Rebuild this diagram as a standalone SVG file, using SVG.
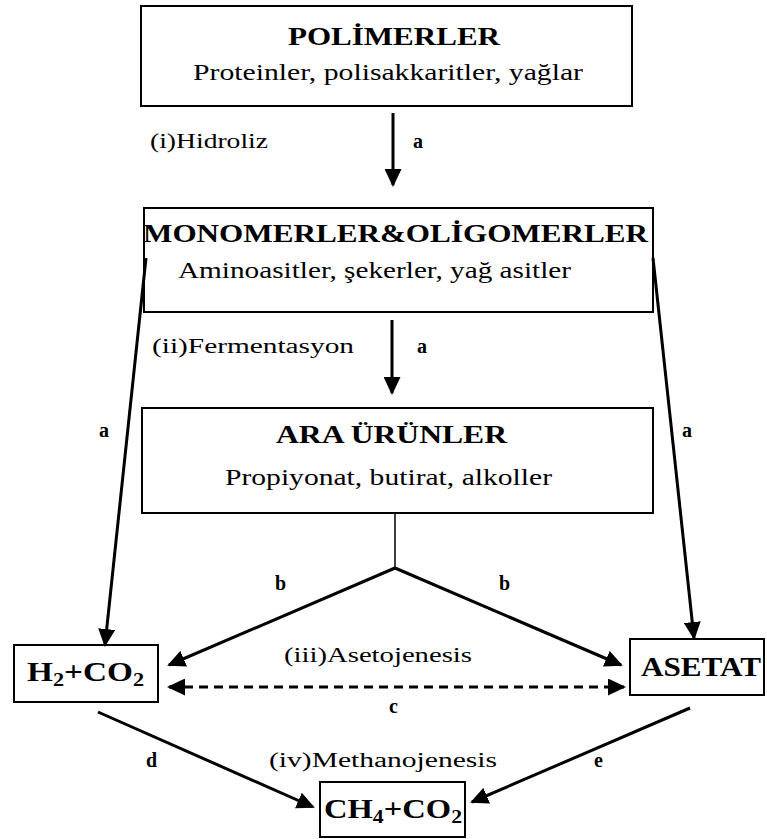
<svg xmlns="http://www.w3.org/2000/svg" width="767" height="839" viewBox="0 0 767 839">
<style>
.box{fill:#fff;stroke:#000;stroke-width:2}
text{font-family:'Liberation Serif','DejaVu Serif','Times New Roman',serif;fill:#000}
.b{font-weight:bold}
.con{stroke:#000;stroke-width:3;fill:none}
</style>
<defs>
<marker id="ah" viewBox="0 0 18 17" refX="16" refY="8.5" markerWidth="18" markerHeight="17" markerUnits="userSpaceOnUse" orient="auto-start-reverse">
<path d="M0,0 L18,8.5 L0,17 z" fill="#000"/>
</marker>
</defs>
<rect width="767" height="839" fill="#fff"/>
<g id="polimerler">
<rect class="box" x="141" y="6" width="491" height="100"/>
<text class="b" x="288" y="45" font-size="26" textLength="212" lengthAdjust="spacingAndGlyphs">POLİMERLER</text>
<text x="193" y="80" font-size="23" textLength="390" lengthAdjust="spacingAndGlyphs">Proteinler, polisakkaritler, yağlar</text>
</g>
<g id="monomerler">
<rect class="box" x="144" y="208" width="509" height="104"/>
<text class="b" x="143" y="242" font-size="25" textLength="505" lengthAdjust="spacingAndGlyphs">MONOMERLER&amp;OLİGOMERLER</text>
<text x="178" y="278" font-size="23" textLength="393" lengthAdjust="spacingAndGlyphs">Aminoasitler, şekerler, yağ asitler</text>
</g>
<g id="araurunler">
<rect class="box" x="142" y="408" width="511" height="105"/>
<text class="b" x="276" y="443" font-size="25" textLength="231" lengthAdjust="spacingAndGlyphs">ARA ÜRÜNLER</text>
<text x="225" y="485" font-size="23" textLength="327" lengthAdjust="spacingAndGlyphs">Propiyonat, butirat, alkoller</text>
</g>
<g id="h2co2">
<rect class="box" x="14" y="645" width="144" height="57"/>
<text class="b" x="27" y="681" font-size="27" textLength="117" lengthAdjust="spacingAndGlyphs">H<tspan font-size="18" dy="5">2</tspan><tspan dy="-5">+CO</tspan><tspan font-size="18" dy="5">2</tspan></text>
</g>
<g id="asetat">
<rect class="box" x="630" y="639" width="134" height="56"/>
<text class="b" x="641" y="676" font-size="27" textLength="120" lengthAdjust="spacingAndGlyphs">ASETAT</text>
</g>
<g id="ch4co2">
<rect class="box" x="320" y="782" width="145" height="55"/>
<text class="b" x="324" y="818" font-size="27" textLength="138" lengthAdjust="spacingAndGlyphs">CH<tspan font-size="18" dy="5">4</tspan><tspan dy="-5">+CO</tspan><tspan font-size="18" dy="5">2</tspan></text>
</g>
<g id="connectors">
<line class="con" x1="393" y1="113" x2="393" y2="185" marker-end="url(#ah)"/>
<line class="con" x1="392" y1="320" x2="392" y2="393" marker-end="url(#ah)"/>
<line class="con" x1="146" y1="258" x2="105" y2="645" marker-end="url(#ah)"/>
<line class="con" x1="653" y1="258" x2="694" y2="638" marker-end="url(#ah)"/>
<line stroke="#000" stroke-width="1.5" x1="395" y1="513" x2="395" y2="568"/>
<line class="con" x1="395" y1="568" x2="169" y2="665" marker-end="url(#ah)"/>
<line class="con" x1="395" y1="568" x2="621" y2="665" marker-end="url(#ah)"/>
<line class="con" stroke-dasharray="9 6" x1="169" y1="687" x2="624" y2="687" marker-start="url(#ah)" marker-end="url(#ah)"/>
<line class="con" x1="98" y1="712" x2="313" y2="807" marker-end="url(#ah)"/>
<line class="con" x1="690" y1="708" x2="472" y2="802" marker-end="url(#ah)"/>
</g>
<g id="labels">
<text x="150" y="148" font-size="20" textLength="118" lengthAdjust="spacingAndGlyphs">(i)Hidroliz</text>
<text class="b" x="413" y="148" font-size="20">a</text>
<text x="152" y="353" font-size="20" textLength="202" lengthAdjust="spacingAndGlyphs">(ii)Fermentasyon</text>
<text class="b" x="417" y="353" font-size="20">a</text>
<text class="b" x="99" y="437" font-size="20">a</text>
<text class="b" x="682" y="437" font-size="20">a</text>
<text class="b" x="275" y="590" font-size="20">b</text>
<text class="b" x="499" y="590" font-size="20">b</text>
<text x="284" y="662" font-size="20" textLength="188" lengthAdjust="spacingAndGlyphs">(iii)Asetojenesis</text>
<text class="b" x="389" y="713" font-size="20">c</text>
<text class="b" x="146" y="767" font-size="20">d</text>
<text class="b" x="594" y="767" font-size="20">e</text>
<text x="269" y="767" font-size="20" textLength="228" lengthAdjust="spacingAndGlyphs">(iv)Methanojenesis</text>
</g>
</svg>
